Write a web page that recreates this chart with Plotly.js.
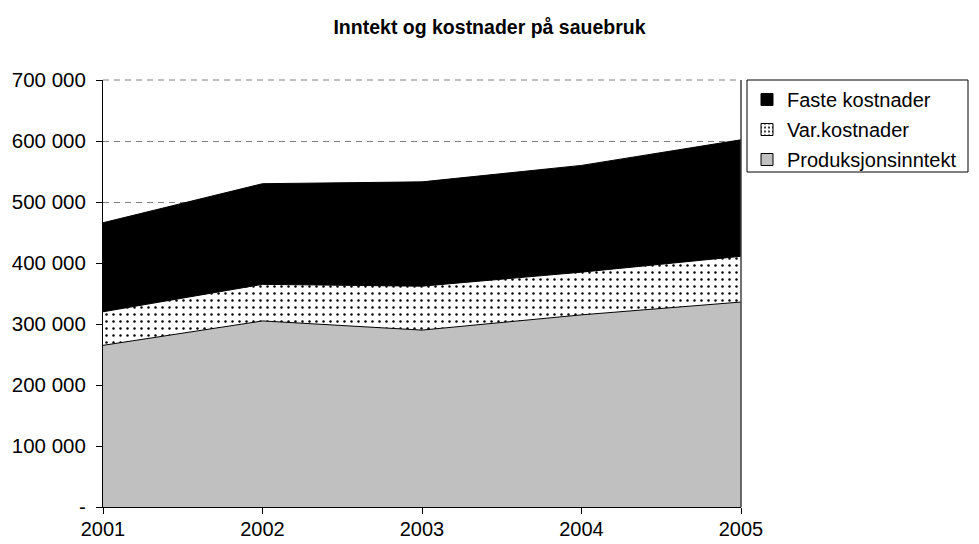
<!DOCTYPE html>
<html>
<head>
<meta charset="utf-8">
<script src="https://cdn.plot.ly/plotly-3.0.1.min.js"></script>
<style>html,body{margin:0;padding:0;background:#fff;}#chart{width:979px;height:544px;}</style>
</head>
<body>
<div id="chart"></div>
<script>
const years = [2001, 2002, 2003, 2004, 2005];
const produksjonsinntekt = [265000, 305000, 290000, 315000, 336000];
const varKostnader = [55000, 60000, 72000, 70000, 75000];
const fasteKostnader = [146000, 165000, 171000, 175000, 191000];
const yTickVals = [0, 100000, 200000, 300000, 400000, 500000, 600000, 700000];
const yTickText = ['-', '100 000', '200 000', '300 000', '400 000', '500 000', '600 000', '700 000'];
const names = ['Produksjonsinntekt', 'Var.kostnader', 'Faste kostnader'];

const FONT = 'Liberation Sans, Arial, Helvetica, sans-serif';

const traces = [
  {x: years, y: produksjonsinntekt, type: 'scatter', mode: 'lines', stackgroup: 'one',
   line: {color: '#000', width: 1}, fillcolor: '#c0c0c0', showlegend: false, name: names[0]},
  {x: years, y: varKostnader, type: 'scatter', mode: 'lines', stackgroup: 'one',
   line: {color: '#000', width: 1}, fillcolor: '#ffffff',
   fillpattern: {shape: '.', bgcolor: '#ffffff', fgcolor: '#000000', size: 7, solidity: 0.1},
   showlegend: false, name: names[1]},
  {x: years, y: fasteKostnader, type: 'scatter', mode: 'lines', stackgroup: 'one',
   line: {color: '#000', width: 1}, fillcolor: '#000000', showlegend: false, name: names[2]},
  // legend entries (top to bottom)
  {x: [null], y: [null], type: 'bar', name: names[2], legendgroup: 'a',
   marker: {color: '#000000', line: {color: '#000', width: 1}}},
  {x: [null], y: [null], type: 'bar', name: names[1], legendgroup: 'b',
   marker: {color: '#ffffff', line: {color: '#000', width: 1},
            pattern: {shape: '.', bgcolor: '#ffffff', fgcolor: '#000000', size: 5, solidity: 0.2}}},
  {x: [null], y: [null], type: 'bar', name: names[0], legendgroup: 'c',
   marker: {color: '#c0c0c0', line: {color: '#000', width: 1}}}
];

const L = 103, R = 741, T = 80, B = 507;
const pw = R - L, ph = B - T;
const px = v => (v - L) / pw;
const py = v => (B - v) / ph;

const layout = {
  width: 979, height: 544,
  margin: {l: L, r: 979 - R, t: T, b: 544 - B},
  paper_bgcolor: '#fff', plot_bgcolor: '#fff',
  font: {family: FONT, color: '#000', size: 20},
  title: {text: 'Inntekt og kostnader på sauebruk', font: {family: FONT, size: 19.5, weight: 'bold', color: '#000'},
          x: 0.5, xref: 'container', xanchor: 'center', y: 1 - 27 / 544, yanchor: 'middle'},
  xaxis: {type: 'linear', range: [2001, 2005], tickvals: years, ticktext: years.map(String),
          showgrid: false, zeroline: false, showline: true, linecolor: '#000', linewidth: 1,
          ticks: 'outside', ticklen: 6, tickcolor: '#000', ticklabelstandoff: -2,
          tickfont: {size: 20, family: FONT}},
  yaxis: {range: [0, 700000], tickvals: yTickVals, ticktext: yTickText,
          showgrid: true, gridcolor: '#808080', gridwidth: 1, griddash: '6px,5px',
          zeroline: false, showline: true, linecolor: '#000', linewidth: 1,
          ticks: 'outside', ticklen: 6, tickcolor: '#000', ticklabelstandoff: 6,
          tickfont: {size: 20.5, family: FONT}},
  showlegend: true,
  legend: {x: px(747), xanchor: 'left', y: 1, yanchor: 'top', traceorder: 'grouped',
           tracegroupgap: 1, bgcolor: 'rgba(0,0,0,0)', borderwidth: 0,
           font: {size: 20, family: FONT, color: '#000'}},
  shapes: [
    {type: 'line', xref: 'paper', yref: 'paper', x0: 0, x1: 1, y0: 1, y1: 1,
     line: {color: '#808080', width: 1, dash: '6px,5px'}},
    {type: 'line', xref: 'paper', yref: 'paper', x0: 1, x1: 1, y0: 0, y1: 1,
     line: {color: '#404040', width: 1.5}},
    {type: 'rect', xref: 'paper', yref: 'paper', x0: px(747), x1: px(968), y0: py(172), y1: py(80),
     line: {color: '#000', width: 1}, fillcolor: 'rgba(0,0,0,0)'}
  ]
};

Plotly.newPlot('chart', traces, layout, {displayModeBar: false, staticPlot: true});
</script>
</body>
</html>
